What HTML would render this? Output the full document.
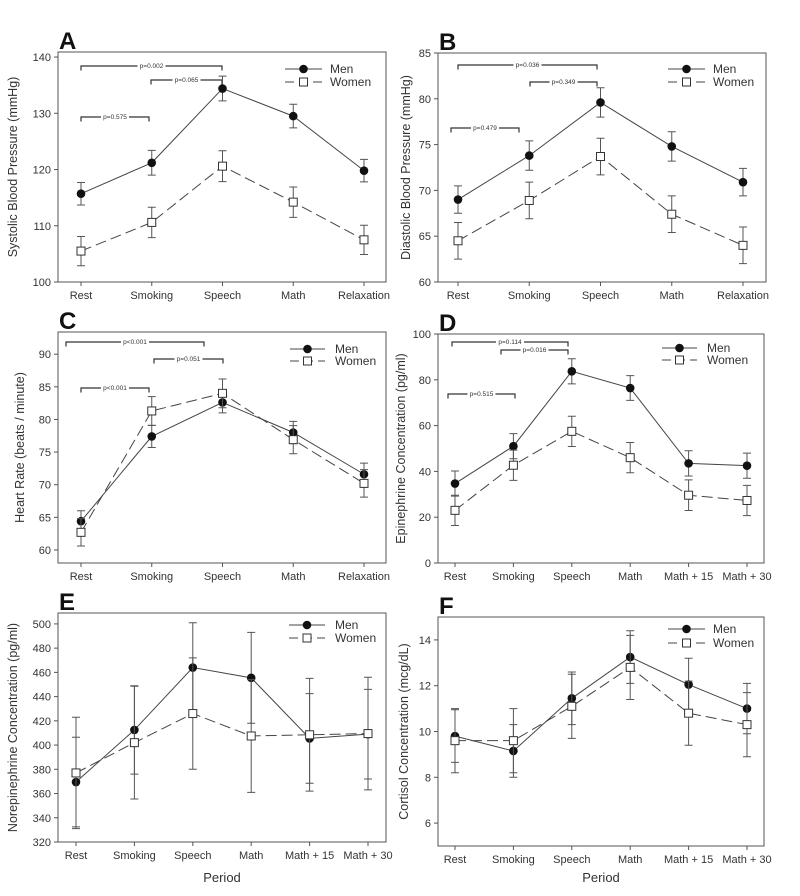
<!DOCTYPE html>
<html><head><meta charset="utf-8"><style>
body{margin:0;background:#fff;}
svg{display:block;font-family:"Liberation Sans",Arial,sans-serif;}
</style></head><body>
<svg id="fig" width="800" height="896" viewBox="0 0 800 896"></svg>
<script>
const catsA=["Rest","Smoking","Speech","Math","Relaxation"];
const catsD=["Rest","Smoking","Speech","Math","Math + 15","Math + 30"];
const menA=[115.7,121.2,134.4,129.5,119.8];
const menAErr=[2,2.2,2.2,2.1,2];
const womenA=[105.5,110.6,120.6,114.2,107.5];
const womenAErr=[2.6,2.7,2.75,2.7,2.6];
const ticksA=[100,110,120,130,140];
const menB=[69.0,73.8,79.6,74.8,70.9];
const menBErr=[1.5,1.6,1.6,1.6,1.5];
const womenB=[64.5,68.9,73.7,67.4,64.0];
const womenBErr=[2,2,2,2,2];
const ticksB=[60,65,70,75,80,85];
const menC=[64.4,77.4,82.6,78.0,71.6];
const menCErr=[1.6,1.7,1.6,1.7,1.7];
const womenC=[62.7,81.3,84.0,76.9,70.2];
const womenCErr=[2.1,2.2,2.2,2.15,2.1];
const ticksC=[60,65,70,75,80,85,90];
const menD=[34.7,51,83.7,76.4,43.5,42.5];
const menDErr=[5.5,5.5,5.5,5.4,5.5,5.5];
const womenD=[23,42.7,57.5,46,29.6,27.3];
const womenDErr=[6.6,6.6,6.6,6.6,6.7,6.6];
const ticksD=[0,20,40,60,80,100];
const menE=[369.5,412.5,464,455.5,405.5,409];
const menEErr=[37,36.5,37,37.5,37,37];
const womenE=[377,402,426,407.5,408.5,409.5];
const womenEErr=[46,46.5,46,46.5,46.5,46.5];
const ticksE=[320,340,360,380,400,420,440,460,480,500];
const menF=[9.8,9.15,11.45,13.25,12.05,11.0];
const menFErr=[1.15,1.15,1.15,1.15,1.15,1.1];
const womenF=[9.6,9.6,11.1,12.8,10.8,10.3];
const womenFErr=[1.4,1.4,1.4,1.4,1.4,1.4];
const ticksF=[6,8,10,12,14];

const NS="http://www.w3.org/2000/svg";
const svg=document.getElementById('fig');
function mk(tag,attrs,parent,text){const e=document.createElementNS(NS,tag);for(const k in attrs)e.setAttribute(k,attrs[k]);if(text!==undefined)e.textContent=text;(parent||svg).appendChild(e);return e;}

function panel(o){
  const g=mk('g',{});
  
  
  const L=o.l,R=o.r,T=o.t,B=o.b,n=o.cats.length;
  const xs=(i)=>o.x0+i*(o.x1-o.x0)/(n-1);
  const ys=(v)=>B-(v-o.ymin)/(o.ymax-o.ymin)*(B-T);
  const fr=mk('rect',{x:L,y:T,width:R-L,height:B-T,fill:'none',stroke:'#555','stroke-width':1},g);
  
  const lt=mk('text',{x:L+1,y:T-3,'font-size':24,'font-weight':'bold',fill:'#111'},g,o.letter);
  
  o.ticks.forEach(v=>{const y=ys(v);mk('line',{x1:L-4,x2:L,y1:y,y2:y,stroke:'#555'},g);
    const t=mk('text',{x:L-7,y:y+4,'font-size':11,'text-anchor':'end',fill:'#333'},g,String(v));
    });
  o.cats.forEach((c,i)=>{const x=xs(i);mk('line',{x1:x,x2:x,y1:B,y2:B+4,stroke:'#555'},g);
    const t=mk('text',{x:x,y:B+17,'font-size':11,'text-anchor':'middle',fill:'#333'},g,c);
    });
  const cy=(T+B)/2;
  const yt=mk('text',{x:o.ylx,y:cy,'font-size':12.5,'text-anchor':'middle',fill:'#333',transform:`rotate(-90 ${o.ylx} ${cy})`},g,o.ylabel);
  
  if(o.period){const p=mk('text',{x:(L+R)/2,y:882,'font-size':13,'text-anchor':'middle',fill:'#333'},g,'Period');
    }
  (o.brackets||[]).forEach(b=>{
    mk('path',{d:`M${b[0]},${b[2]+4.5}V${b[2]}H${b[1]}V${b[2]+4.5}`,fill:'none',stroke:'#333','stroke-width':1.2},g);
    const mx=(b[0]+b[1])/2;
    mk('rect',{x:mx-14,y:b[2]-4,width:28,height:7,fill:'#fff'},g);
    const t=mk('text',{x:mx,y:b[2]+2,'font-size':6.5,'text-anchor':'middle',fill:'#333'},g,b[3]);
    
  });
  function series(vals,errs,women){
    const sg=mk('g',{},g);
    
    vals.forEach((v,i)=>{const x=xs(i);const y1=ys(v+errs[i]),y2=ys(v-errs[i]);
      mk('path',{d:`M${x},${y1}V${y2}M${x-4},${y1}H${x+4}M${x-4},${y2}H${x+4}`,stroke:'#555','stroke-width':1,fill:'none'},sg);});
    const pts=vals.map((v,i)=>xs(i)+','+ys(v)).join(' ');
    const pl=mk('polyline',{points:pts,fill:'none',stroke:'#444','stroke-width':1,'stroke-dasharray':women?'11,5':'none'},sg);
    
    vals.forEach((v,i)=>{const x=xs(i),y=ys(v);let m;
      if(women)m=mk('rect',{x:x-4,y:y-4,width:8,height:8,fill:'#fff',stroke:'#333','stroke-width':1},sg);
      else m=mk('circle',{cx:x,cy:y,r:4.3,fill:'#111'},sg);
      });
  }
  series(o.men,o.menErr,false);
  series(o.women,o.womenErr,true);
  const lg=mk('g',{},g);
  const a=o.leg[0],b2=o.leg[1],y1=o.leg[2],y2=o.leg[3],tx=o.leg[4];
  mk('line',{x1:a,x2:b2,y1:y1,y2:y1,stroke:'#444'},lg);
  mk('circle',{cx:(a+b2)/2,cy:y1,r:4.3,fill:'#111'},lg);
  const t1=mk('text',{x:tx,y:y1+4,'font-size':12,fill:'#333'},lg,'Men');
  
  mk('line',{x1:a,x2:b2,y1:y2,y2:y2,stroke:'#444','stroke-dasharray':'9,5'},lg);
  mk('rect',{x:(a+b2)/2-4,y:y2-4,width:8,height:8,fill:'#fff',stroke:'#333'},lg);
  const t2=mk('text',{x:tx,y:y2+4,'font-size':12,fill:'#333'},lg,'Women');
  
}

panel({letter:'A',l:58,r:386,t:52,b:282,x0:81,x1:364,ymin:100,ymax:140.9,ticks:ticksA,cats:catsA,
  men:menA,menErr:menAErr,women:womenA,womenErr:womenAErr,ylabel:'Systolic Blood Pressure (mmHg)',ylx:17,
  leg:[285,322,69,82,330],brackets:[[81,222,66,'p=0.002'],[151,222,80,'p=0.065'],[81,149,117,'p=0.575']]});
panel({letter:'B',l:438,r:766,t:53,b:282,x0:458,x1:743,ymin:60,ymax:85,ticks:ticksB,cats:catsA,
  men:menB,menErr:menBErr,women:womenB,womenErr:womenBErr,ylabel:'Diastolic Blood Pressure (mmHg)',ylx:410,
  leg:[668,705,69,82,713],brackets:[[458,597,65,'p=0.036'],[530,597,82,'p=0.349'],[451,519,128,'p=0.479']]});
panel({letter:'C',l:58,r:386,t:332,b:563,x0:81,x1:364,ymin:58,ymax:93.4,ticks:ticksC,cats:catsA,
  men:menC,menErr:menCErr,women:womenC,womenErr:womenCErr,ylabel:'Heart Rate (beats / minute)',ylx:24,
  leg:[290,325,349,361,335],brackets:[[66,204,342,'p<0.001'],[154,223,359,'p=0.051'],[81,149,388,'p<0.001']]});
panel({letter:'D',l:438,r:764,t:334,b:563,x0:455,x1:747,ymin:0,ymax:100,ticks:ticksD,cats:catsD,
  men:menD,menErr:menDErr,women:womenD,womenErr:womenDErr,ylabel:'Epinephrine Concentration (pg/ml)',ylx:405,
  leg:[662,697,348,360,707],brackets:[[452,568,342,'p=0.114'],[501,568,350,'p=0.016'],[448,515,394,'p=0.515']]});
panel({letter:'E',l:58,r:386,t:613,b:842,x0:76,x1:368,ymin:320,ymax:509,ticks:ticksE,cats:catsD,
  men:menE,menErr:menEErr,women:womenE,womenErr:womenEErr,ylabel:'Norepinephrine Concentration (pg/ml)',ylx:17,
  leg:[289,325,625,638,335],period:true});
panel({letter:'F',l:438,r:764,t:617,b:846,x0:455,x1:747,ymin:5,ymax:15,ticks:ticksF,cats:catsD,
  men:menF,menErr:menFErr,women:womenF,womenErr:womenFErr,ylabel:'Cortisol Concentration (mcg/dL)',ylx:408,
  leg:[668,705,629,643,713],period:true});
</script>
</body></html>
